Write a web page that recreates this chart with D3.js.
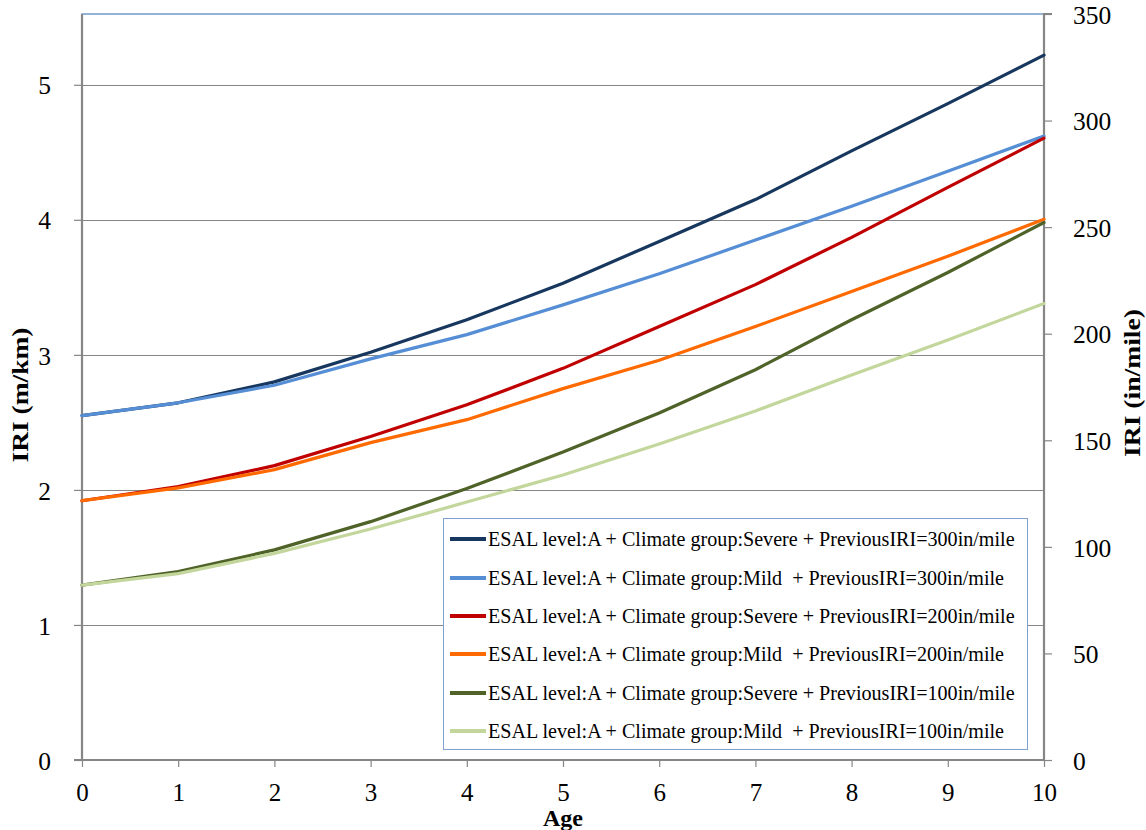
<!DOCTYPE html>
<html><head><meta charset="utf-8">
<script src="https://cdn.jsdelivr.net/npm/d3@7"></script>
<style>body{margin:0;background:#fff}svg{display:block}</style>
</head><body>
<svg id="chart" width="1146" height="830"></svg>
<script>
const ages = [0,1,2,3,4,5,6,7,8,9,10];
const seriesNames = [
  "ESAL level:A + Climate group:Severe + PreviousIRI=300in/mile",
  "ESAL level:A + Climate group:Mild  + PreviousIRI=300in/mile",
  "ESAL level:A + Climate group:Severe + PreviousIRI=200in/mile",
  "ESAL level:A + Climate group:Mild  + PreviousIRI=200in/mile",
  "ESAL level:A + Climate group:Severe + PreviousIRI=100in/mile",
  "ESAL level:A + Climate group:Mild  + PreviousIRI=100in/mile"
];
const severe300 = [2.55,2.645,2.80,3.02,3.26,3.53,3.84,4.15,4.51,4.86,5.22];
const mild300   = [2.55,2.645,2.775,2.97,3.15,3.37,3.60,3.85,4.10,4.36,4.62];
const severe200 = [1.92,2.025,2.18,2.395,2.63,2.90,3.21,3.52,3.87,4.24,4.605];
const mild200   = [1.92,2.015,2.15,2.35,2.52,2.75,2.96,3.21,3.47,3.73,4.005];
const severe100 = [1.295,1.395,1.556,1.765,2.01,2.28,2.57,2.89,3.26,3.61,3.98];
const mild100   = [1.295,1.38,1.53,1.71,1.91,2.11,2.34,2.585,2.85,3.11,3.38];
const seriesValues = [severe300, mild300, severe200, mild200, severe100, mild100];
const seriesColors = ["#17375e","#558ed5","#c00000","#ff6a00","#4f6228","#c3d69b"];
const leftTicks = [0,1,2,3,4,5];
const rightTicks = [0,50,100,150,200,250,300,350];
const xTicks = [0,1,2,3,4,5,6,7,8,9,10];
const leftTitle = "IRI (m/km)";
const rightTitle = "IRI (in/mile)";
const xTitle = "Age";

const svg = d3.select("#chart");
const L = 82, R = 1044, T = 14, B = 760;
const rightMax = 350;
const x = d3.scaleLinear().domain([0,10]).range([L,R]);
const yR = d3.scaleLinear().domain([0,rightMax]).range([B,T]);
const y = d3.scaleLinear().domain([0,rightMax/63.36]).range([B,T]);
const font = "'Liberation Serif','Times New Roman',serif";
const gridCol = "#868686";

// plot border (blue)
svg.append("rect").attr("x",L).attr("y",T).attr("width",R-L).attr("height",B-T)
  .attr("fill","none").attr("stroke","#4f81bd").attr("stroke-width",1.2);

// gridlines
svg.append("g").selectAll("line").data(leftTicks.filter(d=>d>0)).join("line")
  .attr("x1",L).attr("x2",R).attr("y1",d=>Math.round(y(d))+0.5).attr("y2",d=>Math.round(y(d))+0.5)
  .attr("stroke",gridCol).attr("stroke-width",1.2);

// axes
const gl = svg.append("g").attr("transform",`translate(${L},0)`)
  .call(d3.axisLeft(y).tickValues(leftTicks).tickSize(8).tickPadding(23).tickFormat(d3.format("d")));
const gr = svg.append("g").attr("transform",`translate(${R},0)`)
  .call(d3.axisRight(yR).tickValues(rightTicks).tickSize(8).tickPadding(21).tickFormat(d3.format("d")));
const gb = svg.append("g").attr("transform",`translate(0,${B})`)
  .call(d3.axisBottom(x).tickValues(xTicks).tickSize(7).tickFormat(d3.format("d")));
[gl,gr,gb].forEach(g=>{
  g.select(".domain").attr("stroke",gridCol).attr("stroke-width",2.2);
  g.selectAll(".tick line").attr("stroke",gridCol).attr("stroke-width",1.2);
  g.selectAll(".tick text").attr("font-family",font).attr("font-size",25.5).attr("fill","#000");
});
gb.selectAll(".tick text").attr("font-size",25).attr("y",41).attr("dy",null);
gl.selectAll(".tick text").attr("dy","0.36em");
gr.selectAll(".tick text").attr("dy","0.36em");
gl.select(".domain").attr("d",`M-8,${B}H0V${T}`);
gr.select(".domain").attr("d",`M8,${T}H0V${B}`);
gb.select(".domain").attr("d",`M${L},0H${R}`);

// lines
const line = d3.line().x((d,i)=>x(ages[i])).y(d=>y(d));
svg.append("g").selectAll("path").data(seriesValues).join("path")
  .attr("d",d=>line(d)).attr("fill","none")
  .attr("stroke",(d,i)=>seriesColors[i]).attr("stroke-width",3.2)
  .attr("stroke-linejoin","round").attr("stroke-linecap","round");

// axis titles
svg.append("text").attr("transform","translate(28,395) rotate(-90)")
  .attr("text-anchor","middle").attr("font-family",font).attr("font-weight","bold")
  .attr("font-size",24).attr("textLength",135).attr("lengthAdjust","spacingAndGlyphs").text(leftTitle);
svg.append("text").attr("transform","translate(1140,383) rotate(-90)")
  .attr("text-anchor","middle").attr("font-family",font).attr("font-weight","bold")
  .attr("font-size",24).attr("textLength",148).attr("lengthAdjust","spacingAndGlyphs").text(rightTitle);
svg.append("text").attr("x",563).attr("y",826)
  .attr("text-anchor","middle").attr("font-family",font).attr("font-weight","bold")
  .attr("font-size",24).text(xTitle);

// legend
const lg = svg.append("g");
lg.append("rect").attr("x",443.5).attr("y",518.5).attr("width",584).attr("height",231)
  .attr("fill","#fff").attr("stroke","#7f9fd0").attr("stroke-width",1);
const rowY = [539,578,616,654,693,731];
seriesNames.forEach((n,i)=>{
  lg.append("line").attr("x1",450).attr("x2",486).attr("y1",rowY[i]).attr("y2",rowY[i])
    .attr("stroke",seriesColors[i]).attr("stroke-width",4);
  lg.append("text").attr("x",488).attr("y",rowY[i]+6.5).attr("font-family",font)
    .attr("font-size",20.1).attr("xml:space","preserve").style("white-space","pre").text(n);
});
</script>
</body></html>
